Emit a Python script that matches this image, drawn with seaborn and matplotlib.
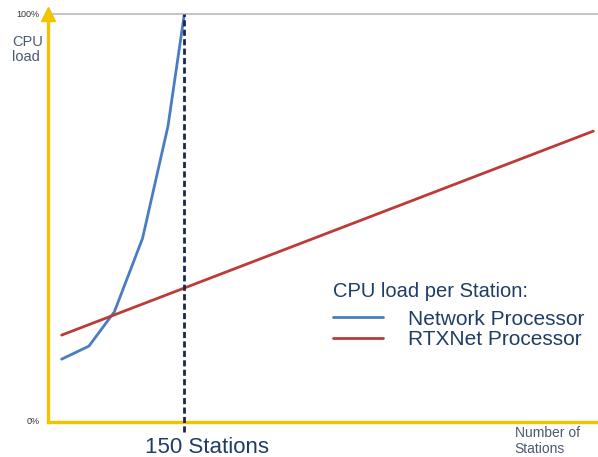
"""
cpu_load_stations.py

Line chart of CPU load against number of stations for the network
processor and the RTXNet processor, with a marker at 150 stations.
"""

import pandas as pd
import matplotlib.pyplot as plt
import seaborn as sns

OUTPUT_FILEPATH = "out.png"

# Data
network_stations = [15, 45, 73, 104, 132, 150]
network_load = [15.4, 18.6, 27.0, 45.0, 72.5, 100.0]
rtxnet_stations = [15, 600]
rtxnet_load = [21.3, 71.3]
marker_stations = 150
series_names = ["Network Processor", "RTXNet Processor"]

# Colours
BLUE = "#4a7cc2"
RED = "#bc3b36"
YELLOW = "#f3c300"
NAVY = "#1b2550"
TEXT_BLUE = "#1f3d66"
LABEL_GREY = "#4a5a70"

sns.set_style("white")
plt.rcParams["font.family"] = ["Liberation Sans", "DejaVu Sans"]


def build_frame():
    net = pd.DataFrame(
        {"stations": network_stations, "load": network_load, "series": series_names[0]}
    )
    rtx = pd.DataFrame(
        {"stations": rtxnet_stations, "load": rtxnet_load, "series": series_names[1]}
    )
    return pd.concat([net, rtx], ignore_index=True)


def main():
    df = build_frame()

    fig = plt.figure(figsize=(5.98, 4.57), dpi=100)
    ax = fig.add_axes([48 / 598, 35 / 457, 549 / 598, 408 / 457])

    sns.lineplot(
        data=df,
        x="stations",
        y="load",
        hue="series",
        hue_order=series_names,
        palette=[BLUE, RED],
        linewidth=2,
        sort=False,
        ax=ax,
    )

    ax.set_xlim(0, 604)
    ax.set_ylim(0, 100)

    # Dashed marker at 150 stations, running a little below the axis
    ax.axvline(
        marker_stations,
        ymin=-0.025,
        ymax=1,
        color=NAVY,
        linestyle=(0, (2.2, 1.2)),
        linewidth=2,
        clip_on=False,
        zorder=4,
    )

    # Axis styling: yellow left/bottom, light grey top
    for side in ["left", "bottom"]:
        ax.spines[side].set_color(YELLOW)
        ax.spines[side].set_linewidth(2.4)
    ax.spines["top"].set_color("#c4c4c4")
    ax.spines["top"].set_linewidth(1.5)
    ax.spines["right"].set_visible(False)
    ax.set_xticks([])
    ax.set_yticks([])
    ax.set_xlabel(None)
    ax.set_ylabel(None)

    # Arrow head on the y axis
    ax.plot(0, 100, marker="^", markersize=10, color=YELLOW, clip_on=False, zorder=5)

    # Texts
    ax.text(-0.015, 1.0, "100%", transform=ax.transAxes, ha="right", va="center",
            fontsize=6.5, color="#333333")
    ax.text(-0.015, 0.0, "0%", transform=ax.transAxes, ha="right", va="center",
            fontsize=6.5, color="#333333")
    ax.text(-0.066, 0.913, "CPU\nload", transform=ax.transAxes, ha="left", va="center",
            fontsize=10.5, color=LABEL_GREY, linespacing=1.12)
    ax.text(marker_stations + 25, -6.2, "150 Stations", ha="center", va="center",
            fontsize=16, color=TEXT_BLUE)
    ax.text(0.85, -0.047, "Number of\nStations", transform=ax.transAxes, ha="left",
            va="center", fontsize=10, color=LABEL_GREY, linespacing=1.15)

    # Legend as a title plus two line samples
    leg = ax.legend(
        title="CPU load per Station:",
        loc="upper left",
        bbox_to_anchor=(0.507, 0.358),
        frameon=False,
        fontsize=15,
        title_fontsize=14.5,
        handlelength=2.4,
        handletextpad=1.2,
        labelspacing=0.08,
        borderpad=0.3,
        borderaxespad=0,
        alignment="left",
    )
    leg._legend_box.sep = 6  # a bit more room under the title
    for t in leg.get_texts():
        t.set_color(TEXT_BLUE)
    leg.get_title().set_color(TEXT_BLUE)

    fig.savefig(OUTPUT_FILEPATH, dpi=100)


if __name__ == "__main__":
    main()
